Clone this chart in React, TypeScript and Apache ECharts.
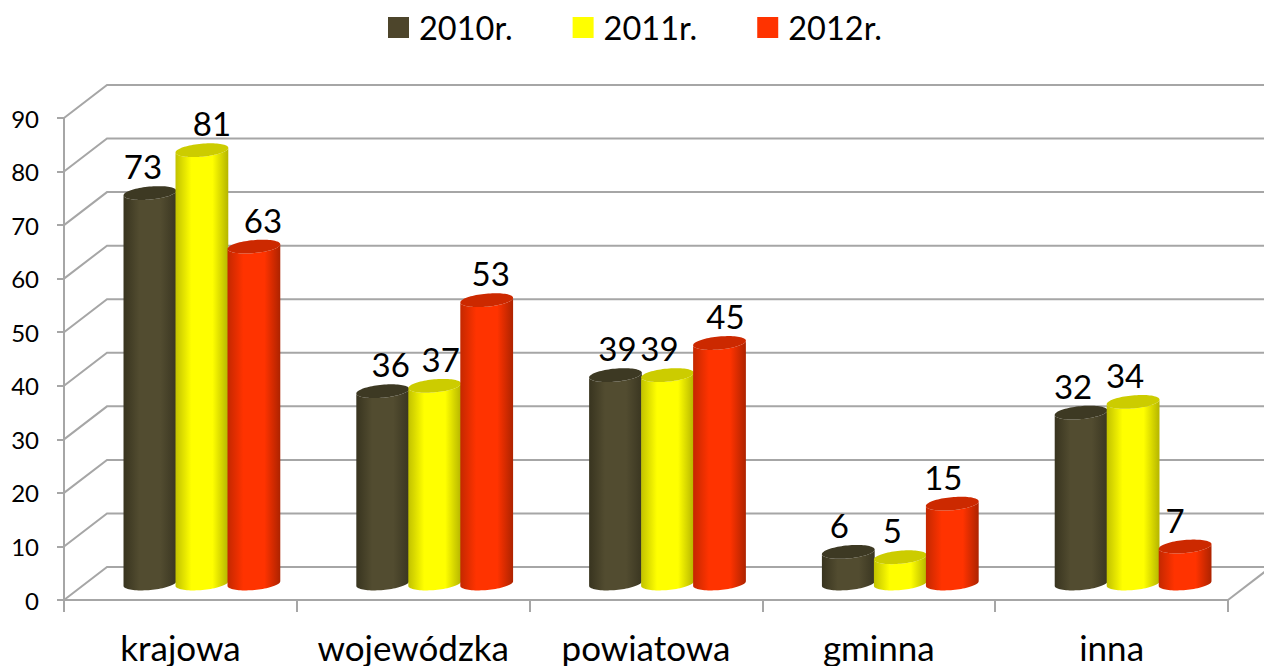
import React, { useEffect, useRef } from "react";
import * as echarts from "echarts";

const categories = ["krajowa", "wojewódzka", "powiatowa", "gminna", "inna"];
const yearNames = ["2010r.", "2011r.", "2012r."];
const values2010 = [73, 36, 39, 6, 32];
const values2011 = [81, 37, 39, 5, 34];
const values2012 = [63, 53, 45, 15, 7];
const wallTicks = [0, 10, 20, 30, 40, 50, 60, 70, 80, 90];

// Hand-placed data label shifts of the original chart (px, horizontal)
const labelShift2010 = [-7, 8, 2, -9, -8];
const labelShift2011 = [10, 6, -8, -8, -8];
const labelShift2012 = [9, 4, 6, -9, -10];

const FONT = "Lato, 'Open Sans', sans-serif";
const GRID_LINE = "#A6A6A6";
const DEPTH_X = 43;
const DEPTH_Y = 33;
const BAR_W = 52;
const RY = 6.5;
const TILT = (-5.3 * Math.PI) / 180;

const palettes = [
  { base: "#4D452B", top: "#3D3923", stops: ["#38341F", "#524C30", "#524C30", "#3A3621"] },
  { base: "#FFFF00", top: "#CCCC00", stops: ["#C2C200", "#FFFF00", "#FFFF00", "#B5B500"] },
  { base: "#FF3300", top: "#CC2900", stops: ["#C42800", "#FF3300", "#FF3300", "#AD2300"] },
];

function ellipsePoint(cx: number, cy: number, rx: number, t: number) {
  const c = Math.cos(t), s = Math.sin(t);
  const cr = Math.cos(TILT), sr = Math.sin(TILT);
  return [cx + rx * c * cr - RY * s * sr, cy + rx * c * sr + RY * s * cr];
}

function cylinderSeries(name: string, values: number[], shifts: number[], idx: number) {
  const pal = palettes[idx];
  return {
    type: "custom",
    name,
    z: 3,
    clip: false,
    silent: true,
    itemStyle: { color: pal.base },
    encode: { x: 0, y: 1 },
    data: values.map((v, i) => [i, v]),
    renderItem(params: any, api: any) {
      const cat = api.value(0);
      const val = api.value(1);
      const top = api.coord([cat, val]);
      const base = api.coord([cat, 0]);
      const cx = base[0] + DEPTH_X / 2 + (idx - 1) * BAR_W;
      const by = base[1] - DEPTH_Y / 2;
      const ty = top[1] - DEPTH_Y / 2 + 0.5;
      const rx = BAR_W / 2 + 0.5;
      const body: number[][] = [];
      const N = 40;
      for (let k = 0; k <= N; k++) {
        body.push(ellipsePoint(cx, by, rx, Math.PI - (Math.PI * k) / N));
      }
      for (let k = 0; k <= N; k++) {
        body.push(ellipsePoint(cx, ty, rx, (Math.PI * k) / N));
      }
      const cap: number[][] = [];
      for (let k = 0; k < 2 * N; k++) {
        cap.push(ellipsePoint(cx, ty, rx, (Math.PI * k) / N));
      }
      return {
        type: "group",
        children: [
          {
            type: "polygon",
            shape: { points: body },
            style: {
              fill: new echarts.graphic.LinearGradient(0, 0, 1, 0, [
                { offset: 0, color: pal.stops[0] },
                { offset: 0.3, color: pal.stops[1] },
                { offset: 0.7, color: pal.stops[2] },
                { offset: 1, color: pal.stops[3] },
              ]),
            },
          },
          { type: "polygon", shape: { points: cap }, style: { fill: pal.top } },
          {
            type: "text",
            z2: 10,
            style: {
              x: cx + shifts[cat],
              y: ty - 27,
              text: String(val),
              fill: "#000",
              font: `33px ${FONT}`,
              align: "center",
              verticalAlign: "middle",
            },
          },
        ],
      };
    },
  };
}

const wallSeries = {
  type: "custom",
  name: "wall",
  z: 1,
  clip: false,
  silent: true,
  encode: { x: 0, y: 1 },
  data: wallTicks.map((t) => [0, t]),
  renderItem(params: any, api: any) {
    const y = api.coord([0, api.value(1)])[1];
    const g = params.coordSys;
    const children: any[] = [
      {
        type: "polyline",
        shape: {
          points: [
            [g.x, y],
            [g.x + DEPTH_X, y - DEPTH_Y],
            [g.x + g.width + DEPTH_X, y - DEPTH_Y],
          ],
        },
        style: { stroke: GRID_LINE, lineWidth: 2, fill: "none" },
      },
    ];
    if (api.value(1) === 0) {
      children.push({
        type: "line",
        shape: { x1: g.x + g.width, y1: y, x2: g.x + g.width + DEPTH_X, y2: y - DEPTH_Y },
        style: { stroke: GRID_LINE, lineWidth: 2 },
      });
    }
    return { type: "group", children };
  },
};

export default function App() {
  const ref = useRef<HTMLDivElement>(null);
  useEffect(() => {
    document.body.style.margin = "0";
    const chart = echarts.init(ref.current!, null, { renderer: "svg" });
    const axisLine = { show: true, lineStyle: { color: GRID_LINE, width: 2 } };
    chart.setOption({
      animation: false,
      backgroundColor: "#fff",
      legend: {
        top: 11,
        left: 388,
        padding: 0,
        itemWidth: 21,
        itemHeight: 21,
        itemGap: 60,
        icon: "rect",
        data: yearNames,
        selectedMode: false,
        textStyle: { fontFamily: FONT, fontSize: 32.5, color: "#000", padding: [0, 0, 0, 5] },
      },
      grid: { left: 64, top: 118, width: 1164, height: 482, containLabel: false },
      xAxis: {
        type: "category",
        data: categories,
        boundaryGap: true,
        axisLine,
        axisTick: { show: true, alignWithLabel: false, length: 12, lineStyle: { color: GRID_LINE, width: 2 } },
        axisLabel: { color: "#000", fontFamily: FONT, fontSize: 35, margin: 29, interval: 0 },
        splitLine: { show: false },
      },
      yAxis: {
        type: "value",
        min: 0,
        max: 90,
        interval: 10,
        axisLine,
        axisTick: { show: true, length: 7, lineStyle: { color: GRID_LINE, width: 2 } },
        axisLabel: { color: "#000", fontFamily: FONT, fontSize: 24, margin: 25 },
        splitLine: { show: false },
      },
      series: [
        wallSeries,
        cylinderSeries(yearNames[0], values2010, labelShift2010, 0),
        cylinderSeries(yearNames[1], values2011, labelShift2011, 1),
        cylinderSeries(yearNames[2], values2012, labelShift2012, 2),
      ],
    });
    return () => chart.dispose();
  }, []);
  return <div ref={ref} style={{ width: 1264, height: 666 }} />;
}
